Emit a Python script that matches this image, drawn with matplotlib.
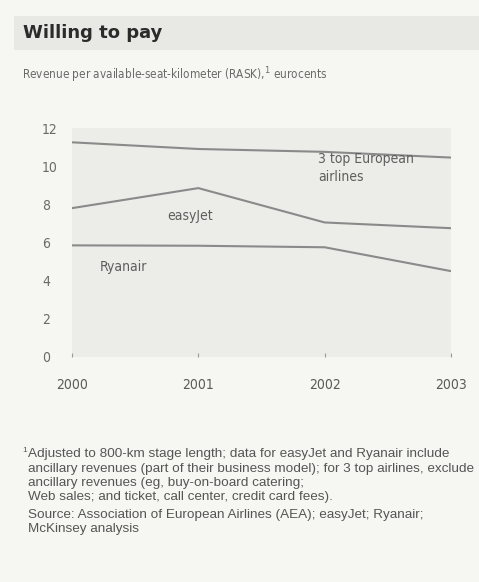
import matplotlib
matplotlib.use("Agg")
import matplotlib.pyplot as plt
from matplotlib.patches import Rectangle

years = [2000, 2001, 2002, 2003]
top3 = [11.25, 10.9, 10.75, 10.45]
easyjet = [7.8, 8.85, 7.05, 6.75]
ryanair = [5.85, 5.83, 5.75, 4.5]
yticks = [0, 2, 4, 6, 8, 10, 12]

W, H = 479, 582
fig = plt.figure(figsize=(W / 100, H / 100), dpi=100)
fig.patch.set_facecolor("#f6f6f3")

def fx(px):
    return px / W

def fy(py):
    return 1 - py / H

# title band
fig.patches.append(Rectangle((fx(14), fy(50)), fx(465), 34 / H, transform=fig.transFigure,
                             facecolor="#e8e8e5", edgecolor="none", zorder=0))
fig.text(fx(23), fy(33), "Willing to pay", fontsize=13, fontweight="heavy",
         family="DejaVu Sans", color="#2b2b2b", va="center", ha="left")
fig.text(fx(22), fy(75), "Revenue per available-seat-kilometer (RASK),$^1$ eurocents",
         fontsize=8.5, family="DejaVu Sans", stretch="condensed", color="#6a6a6a",
         va="center", ha="left")

ax = fig.add_axes([fx(72), fy(357), fx(451) - fx(72), (357 - 128) / H])
ax.set_facecolor("#ecece9")
lc = "#8a8a8a"
ax.plot(years, top3, color=lc, lw=1.5)
ax.plot(years, easyjet, color=lc, lw=1.5)
ax.plot(years, ryanair, color=lc, lw=1.5)
ax.set_xlim(2000, 2003)
ax.set_ylim(0, 12)
for s in ax.spines.values():
    s.set_visible(False)
ax.set_yticks(yticks)
ax.set_yticklabels([str(v) for v in yticks], family="DejaVu Sans", stretch="condensed",
                   fontsize=10, color="#6a6a6a", ha="left")
ax.tick_params(axis="y", length=0, pad=21.6)
ax.set_xticks(years)
ax.set_xticklabels([str(v) for v in years], family="DejaVu Sans", stretch="condensed",
                   fontsize=10, color="#5a5a5a")
ax.tick_params(axis="x", length=3, direction="in", color="#9a9a9a", pad=15)

lab = dict(family="DejaVu Sans", stretch="condensed", fontsize=10, color="#5e5e5e")
ax.text(2001.95, 9.9, "3 top European\nairlines", va="center", ha="left", linespacing=1.35, **lab)
ax.text(2000.75, 7.4, "easyJet", va="center", ha="left", **lab)
ax.text(2000.22, 4.7, "Ryanair", va="center", ha="left", **lab)

foot = dict(family="Liberation Sans", fontsize=9.7, color="#555555", ha="left", va="center")
fig.text(fx(22), fy(450), "1", fontsize=6, family="Liberation Sans", color="#555555", va="center")
lines = ["Adjusted to 800-km stage length; data for easyJet and Ryanair include",
         "ancillary revenues (part of their business model); for 3 top airlines, exclude",
         "ancillary revenues (eg, buy-on-board catering;",
         "Web sales; and ticket, call center, credit card fees)."]
ys = [454, 469, 483, 497]
for t, y in zip(lines, ys):
    fig.text(fx(28), fy(y), t, **foot)
fig.text(fx(28), fy(515), "Source: Association of European Airlines (AEA); easyJet; Ryanair;", **foot)
fig.text(fx(28), fy(529), "McKinsey analysis", **foot)

fig.savefig("out.png", dpi=100, facecolor=fig.get_facecolor())
